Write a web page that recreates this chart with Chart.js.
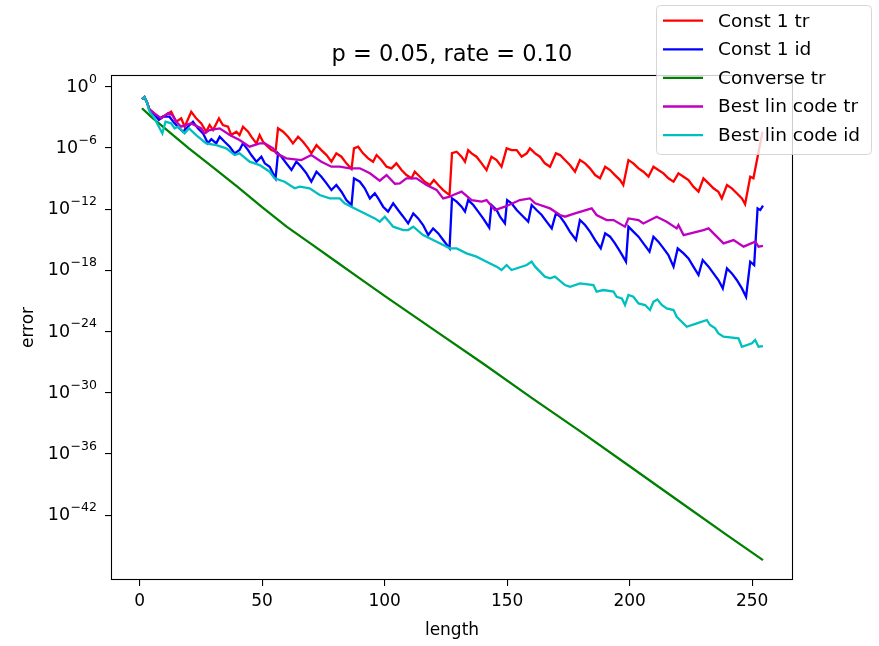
<!DOCTYPE html>
<html>
<head>
<meta charset="utf-8">
<script src="https://cdn.jsdelivr.net/npm/chart.js@4.4.1/dist/chart.umd.min.js"></script>
<style>
  html, body { margin: 0; padding: 0; background: #fff; }
  #wrap { width: 879px; height: 646px; }
</style>
</head>
<body>
<div id="wrap"><canvas id="graphCanvas" width="879" height="646"></canvas></div>
<script>
// values: length, and log10(error)
const constTrLen = [1, 2, 3, 4, 6, 8.4, 12.9, 15.0, 17.0, 18.4, 21.1, 23.1, 25.2, 27.2, 28.6, 30.0, 32.4, 34.0, 36.1, 37.4, 39.5, 40.8, 42.2, 44.3, 45.6, 47.7, 49.0, 50.4, 51.7, 53.8, 55.5, 56.5, 58.6, 60.6, 62.6, 64.7, 66.7, 68.8, 70.1, 72.2, 74.2, 76.3, 78.3, 80.3, 82.4, 84.4, 86.5, 87.5, 89.2, 91.2, 93.3, 95.3, 96.7, 98.7, 100.8, 102.8, 104.8, 106.9, 108.9, 111.0, 112.3, 114.4, 116.4, 118.5, 120.1, 121.9, 123.9, 126.5, 127.5, 129.4, 131.4, 132.8, 134.1, 135.5, 137.5, 139.6, 141.6, 143.6, 145.7, 147.7, 149.8, 151.8, 153.9, 155.9, 158.0, 159.3, 161.4, 163.4, 165.4, 167.5, 169.9, 171.6, 173.6, 175.6, 177.7, 179.7, 181.8, 183.8, 185.9, 187.9, 190.0, 192.0, 194.0, 196.1, 197.4, 199.5, 201.5, 203.6, 205.6, 207.7, 209.7, 211.7, 213.8, 215.8, 217.9, 219.9, 222.0, 224.0, 226.0, 228.1, 230.1, 232.2, 234.2, 236.2, 237.6, 239.7, 241.7, 243.7, 245.8, 247.1, 249.2, 250.5, 254.2];
const constTrLog = [-1.2, -1.0, -1.5, -2.2, -2.6, -3.09, -2.44, -3.42, -3.09, -3.91, -2.44, -3.09, -3.58, -4.40, -3.74, -4.24, -3.09, -3.74, -3.91, -4.73, -4.40, -4.73, -3.91, -4.40, -4.89, -5.54, -4.73, -5.38, -5.71, -6.20, -6.36, -4.07, -4.40, -4.89, -5.54, -4.89, -5.38, -6.03, -6.52, -5.71, -6.20, -6.69, -7.34, -6.52, -6.85, -7.50, -8.05, -6.03, -5.87, -6.52, -7.01, -7.34, -6.69, -7.18, -7.83, -7.99, -7.50, -8.16, -8.65, -8.97, -8.32, -8.81, -9.30, -9.63, -9.14, -9.63, -10.12, -10.61, -6.50, -6.36, -6.85, -7.34, -6.20, -6.52, -6.85, -7.50, -8.16, -6.85, -7.18, -7.83, -6.03, -6.20, -6.20, -6.85, -6.52, -6.03, -6.52, -6.85, -7.50, -7.83, -6.52, -6.69, -7.18, -7.67, -8.32, -7.18, -7.50, -7.99, -8.65, -8.97, -7.83, -8.16, -8.65, -9.14, -9.63, -7.18, -7.50, -7.99, -8.32, -8.81, -7.83, -8.16, -8.48, -8.97, -9.30, -8.48, -8.81, -9.14, -9.79, -10.28, -8.97, -9.46, -9.95, -10.28, -10.94, -9.63, -9.95, -10.44, -10.94, -11.50, -8.81, -8.97, -4.40];

const constIdLen = [1, 2, 3, 4, 6, 7.9, 9.5, 12.2, 14.3, 16.3, 17.7, 19.7, 21.8, 23.8, 25.9, 27.9, 29.3, 31.3, 32.7, 34.7, 36.8, 38.8, 40.8, 42.2, 44.3, 45.6, 47.7, 49.7, 51.1, 53.1, 55.5, 56.5, 57.9, 59.9, 62.0, 64.0, 66.0, 68.1, 70.1, 72.2, 74.2, 76.3, 78.3, 80.3, 82.4, 84.4, 86.5, 87.5, 89.9, 91.9, 94.0, 96.0, 97.4, 99.4, 101.4, 103.5, 105.5, 107.6, 109.6, 111.7, 113.7, 115.7, 117.8, 119.8, 121.9, 123.9, 126.5, 127.5, 129.4, 131.4, 132.8, 134.1, 136.2, 138.2, 140.2, 142.7, 143.6, 145.7, 147.1, 149.1, 150.0, 151.8, 153.9, 155.9, 158.6, 160.0, 162.0, 164.1, 166.1, 168.2, 169.9, 171.6, 173.6, 175.6, 178.1, 179.7, 181.8, 183.8, 185.9, 188.2, 190.0, 192.0, 194.0, 196.1, 198.5, 199.5, 201.5, 203.6, 205.6, 208.1, 209.7, 211.7, 213.8, 215.8, 217.9, 219.6, 222.0, 224.0, 226.0, 228.1, 229.8, 232.2, 234.2, 236.2, 238.0, 239.7, 241.7, 243.7, 245.8, 247.5, 249.2, 250.8, 252.2, 253.3, 254.4];
const constIdLog = [-1.2, -1.0, -1.5, -2.2, -2.7, -3.25, -2.93, -2.93, -3.58, -4.07, -4.40, -3.91, -3.42, -4.07, -4.56, -5.54, -5.12, -5.54, -4.89, -5.38, -5.87, -6.52, -6.20, -5.54, -6.20, -6.69, -7.34, -6.85, -7.50, -7.83, -8.97, -6.52, -6.85, -7.50, -8.16, -7.34, -7.83, -8.48, -9.30, -8.32, -8.81, -9.46, -10.12, -9.63, -10.28, -11.10, -11.59, -8.97, -9.30, -9.95, -10.94, -10.44, -10.94, -11.75, -12.24, -11.42, -12.08, -12.73, -13.39, -12.41, -12.90, -13.55, -14.53, -13.88, -14.37, -15.02, -15.84, -10.93, -11.26, -11.75, -12.24, -11.10, -11.59, -12.24, -12.90, -13.81, -11.59, -12.08, -12.73, -13.39, -11.10, -11.42, -12.08, -12.57, -13.22, -11.59, -12.08, -12.57, -13.22, -13.88, -12.41, -12.73, -13.39, -14.20, -15.02, -13.06, -13.55, -14.20, -15.02, -15.84, -14.37, -14.69, -15.35, -16.16, -17.14, -13.71, -14.20, -14.69, -15.35, -16.16, -14.69, -15.18, -15.84, -16.49, -17.63, -15.84, -16.33, -16.82, -17.63, -18.45, -16.98, -17.63, -18.29, -18.94, -19.76, -17.80, -18.29, -18.94, -19.76, -20.58, -17.14, -17.47, -11.92, -12.08, -11.65];

const converseLen = [1, 5, 10, 20, 30, 40, 50, 60, 70, 80, 90, 100, 120, 140, 160, 180, 200, 220, 240, 254.4];
const converseLog = [-2.1, -3.0, -4.0, -6.0, -7.9, -9.8, -11.8, -13.7, -15.4, -17.1, -18.8, -20.5, -23.8, -27.1, -30.5, -33.8, -37.2, -40.6, -44.0, -46.4];

const bestTrLen = [1, 2, 3, 4, 6, 8.9, 11.6, 13.3, 15.0, 17.0, 21.1, 25.2, 26.5, 28.6, 32.7, 36.8, 40.8, 44.9, 49.0, 51.1, 54.5, 55.8, 59.9, 66.0, 70.1, 74.2, 78.3, 81.7, 85.8, 89.9, 94.0, 98.0, 100.8, 104.2, 106.2, 108.9, 113.0, 117.1, 121.2, 123.9, 126.6, 128.0, 131.4, 135.5, 139.6, 141.6, 145.0, 149.1, 155.2, 159.3, 161.4, 167.5, 171.6, 173.6, 177.7, 184.5, 186.5, 190.6, 193.4, 198.1, 199.5, 203.6, 205.6, 211.0, 215.1, 219.2, 219.9, 222.0, 230.1, 232.2, 238.3, 242.4, 246.5, 251.2, 252.6, 254.4];
const bestTrLog = [-1.2, -1.0, -1.5, -2.2, -2.6, -3.09, -2.60, -2.76, -3.42, -3.91, -3.58, -4.07, -4.56, -4.24, -4.07, -4.73, -5.22, -5.87, -5.54, -5.54, -6.03, -6.52, -7.01, -7.18, -6.69, -7.34, -7.83, -7.83, -7.99, -7.99, -8.48, -9.2, -8.65, -9.5, -9.46, -8.97, -8.97, -9.63, -10.1, -10.94, -10.77, -10.61, -10.28, -11.10, -11.26, -11.10, -12.08, -11.75, -11.10, -10.94, -11.42, -11.92, -12.57, -12.73, -12.41, -11.92, -12.57, -13.06, -13.06, -13.71, -12.90, -13.06, -13.39, -12.73, -13.22, -13.88, -13.55, -14.53, -14.04, -13.88, -15.35, -15.02, -15.67, -15.18, -15.67, -15.60];

const bestIdLen = [1, 2, 3, 4.1, 6.1, 8.2, 9.3, 10.6, 12.9, 14.3, 15.7, 18.4, 20.2, 23.1, 27.2, 31.3, 35.4, 38.8, 40.8, 44.9, 49.0, 53.1, 55.1, 59.2, 63.3, 65.4, 69.4, 73.5, 77.6, 81.7, 83.7, 87.8, 91.9, 96.0, 98.0, 100.1, 103.5, 107.6, 109.6, 111.7, 115.7, 119.8, 123.9, 126.6, 129.4, 133.4, 137.5, 141.6, 145.7, 147.7, 149.8, 151.8, 158.0, 160.0, 161.4, 165.4, 167.5, 169.5, 173.6, 175.7, 179.7, 185.2, 186.5, 189.3, 193.4, 194.7, 196.8, 198.1, 199.5, 201.5, 203.6, 206.3, 208.3, 209.7, 211.3, 213.1, 215.1, 217.9, 219.2, 223.3, 227.4, 231.5, 232.8, 234.9, 236.2, 238.3, 244.4, 245.8, 249.9, 251.2, 252.6, 254.4];
const bestIdLog = [-1.2, -1.0, -1.5, -2.44, -3.09, -4.07, -4.56, -3.42, -3.58, -4.07, -3.91, -4.56, -4.07, -4.73, -5.54, -5.71, -6.03, -6.69, -6.52, -7.34, -7.67, -8.32, -8.97, -9.30, -9.95, -9.79, -9.95, -10.61, -10.94, -10.94, -11.42, -11.92, -12.41, -12.90, -13.22, -12.73, -13.71, -14.04, -14.04, -13.71, -14.53, -15.02, -15.51, -15.84, -15.84, -16.33, -16.65, -17.14, -17.63, -17.96, -17.47, -17.96, -17.47, -17.14, -17.63, -18.61, -18.78, -18.61, -19.43, -19.60, -19.27, -19.43, -20.08, -19.92, -20.08, -20.58, -20.74, -21.39, -20.41, -20.58, -21.23, -21.39, -21.88, -21.07, -20.84, -21.39, -21.72, -21.88, -22.54, -23.52, -23.19, -22.86, -23.35, -23.68, -24.17, -24.50, -24.66, -25.48, -25.15, -24.82, -25.48, -25.41];

const seriesLabels = ["Const 1 tr", "Const 1 id", "Converse tr", "Best lin code tr", "Best lin code id"];
const seriesColors = ["#ff0000", "#0000ff", "#008000", "#bf00bf", "#00bfbf"];
const xTicks = [0, 50, 100, 150, 200, 250];
const yTickExps = [0, -6, -12, -18, -24, -30, -36, -42];

const FONT = "'DejaVu Sans', 'Liberation Sans', sans-serif";

function toPoints(lens, logs) {
  return lens.map((n, i) => ({ x: n, y: Math.pow(10, logs[i]) }));
}

const seriesData = [
  toPoints(constTrLen, constTrLog),
  toPoints(constIdLen, constIdLog),
  toPoints(converseLen, converseLog),
  toPoints(bestTrLen, bestTrLog),
  toPoints(bestIdLen, bestIdLog),
];

// frame, title, axis labels, 10^n tick labels and an outside legend like matplotlib
const decorPlugin = {
  id: "decor",
  afterDatasetsDraw(chart) {
    const ctx = chart.ctx;
    const a = chart.chartArea;
    ctx.save();
    ctx.strokeStyle = "#000";
    ctx.lineWidth = 1.1;
    ctx.strokeRect(a.left + 0.5, a.top + 0.5, a.right - a.left - 1, a.bottom - a.top - 1);
    ctx.restore();
  },
  afterDraw(chart) {
    const ctx = chart.ctx;
    const a = chart.chartArea;
    const ys = chart.scales.y;
    ctx.save();
    ctx.fillStyle = "#000";
    ctx.textAlign = "center";
    ctx.textBaseline = "middle";
    ctx.font = "22.5px " + FONT;
    ctx.fillText("p = 0.05, rate = 0.10", (a.left + a.right) / 2, 55);
    ctx.font = "17px " + FONT;
    ctx.fillText("length", (a.left + a.right) / 2, 631);
    ctx.save();
    ctx.translate(29, (a.top + a.bottom) / 2);
    ctx.rotate(-Math.PI / 2);
    ctx.fillText("error", 0, 0);
    ctx.restore();

    // y tick labels as 10 with a raised exponent
    ctx.textAlign = "right";
    yTickExps.forEach((e) => {
      const ty = ys.getPixelForValue(Math.pow(10, e));
      const expText = String(e).replace("-", "\u2212");
      ctx.font = "12.5px " + FONT;
      const w = ctx.measureText(expText).width;
      ctx.fillText(expText, 97, ty - 7.5);
      ctx.font = "17.5px " + FONT;
      ctx.fillText("10", 97 - w - 0.5, ty + 0.5);
    });
    ctx.restore();

    // legend box
    const bx = 656.5, by = 5.5, bw = 215, bh = 149, r = 4;
    ctx.save();
    ctx.beginPath();
    ctx.moveTo(bx + r, by);
    ctx.arcTo(bx + bw, by, bx + bw, by + bh, r);
    ctx.arcTo(bx + bw, by + bh, bx, by + bh, r);
    ctx.arcTo(bx, by + bh, bx, by, r);
    ctx.arcTo(bx, by, bx + bw, by, r);
    ctx.closePath();
    ctx.fillStyle = "rgba(255,255,255,0.8)";
    ctx.fill();
    ctx.strokeStyle = "rgba(204,204,204,0.8)";
    ctx.lineWidth = 1;
    ctx.stroke();
    ctx.font = "18.5px " + FONT;
    ctx.textAlign = "left";
    ctx.textBaseline = "middle";
    chart.data.datasets.forEach((ds, i) => {
      const y = 20.7 + i * 28.6;
      ctx.strokeStyle = ds.borderColor;
      ctx.lineWidth = 2.3;
      ctx.beginPath();
      ctx.moveTo(663, y);
      ctx.lineTo(703, y);
      ctx.stroke();
      ctx.fillStyle = "#000";
      ctx.fillText(ds.label, 718, y + 1);
    });
    ctx.restore();
  },
};

function graphDraw() {
  let ctx = document.getElementById("graphCanvas").getContext("2d");
  let data = {
    datasets: seriesLabels.map((label, i) => ({
      label: label,
      data: seriesData[i],
      borderColor: seriesColors[i],
      backgroundColor: seriesColors[i],
      borderWidth: 2.3,
      pointRadius: 0,
      tension: 0,
      fill: false,
      order: seriesLabels.length - i,
    })),
  };
  let options = {
    responsive: false,
    animation: false,
    layout: { padding: { left: 0, top: 75, right: 86, bottom: 0 } },
    scales: {
      x: {
        type: "linear",
        min: -11.65,
        max: 266.65,
        afterBuildTicks: (scale) => {
          scale.ticks = xTicks.map((v) => ({ value: v }));
        },
        afterFit: (scale) => {
          scale.height = 66;
        },
        grid: { display: true, drawOnChartArea: false, drawTicks: true, tickLength: 6, color: "#000", lineWidth: 1.1 },
        border: { display: false },
        ticks: {
          autoSkip: false,
          maxRotation: 0,
          padding: 5,
          color: "#000",
          font: { family: FONT, size: 17 },
          callback: (v) => String(v),
        },
      },
      y: {
        type: "logarithmic",
        min: Math.pow(10, -48.35),
        max: Math.pow(10, 1.16),
        afterBuildTicks: (scale) => {
          scale.ticks = yTickExps.map((e) => ({ value: Math.pow(10, e) }));
        },
        afterFit: (scale) => {
          scale.width = 111;
        },
        grid: { display: true, drawOnChartArea: false, drawTicks: true, tickLength: 6, color: "#000", lineWidth: 1.1 },
        border: { display: false },
        ticks: {
          autoSkip: false,
          padding: 7,
          callback: () => "",
        },
      },
    },
    plugins: {
      legend: { display: false },
      title: { display: false },
      tooltip: { enabled: false },
    },
  };
  new Chart(ctx, {
    type: "line",
    data: data,
    options: options,
    plugins: [decorPlugin],
  });
}

graphDraw();
</script>
</body>
</html>
